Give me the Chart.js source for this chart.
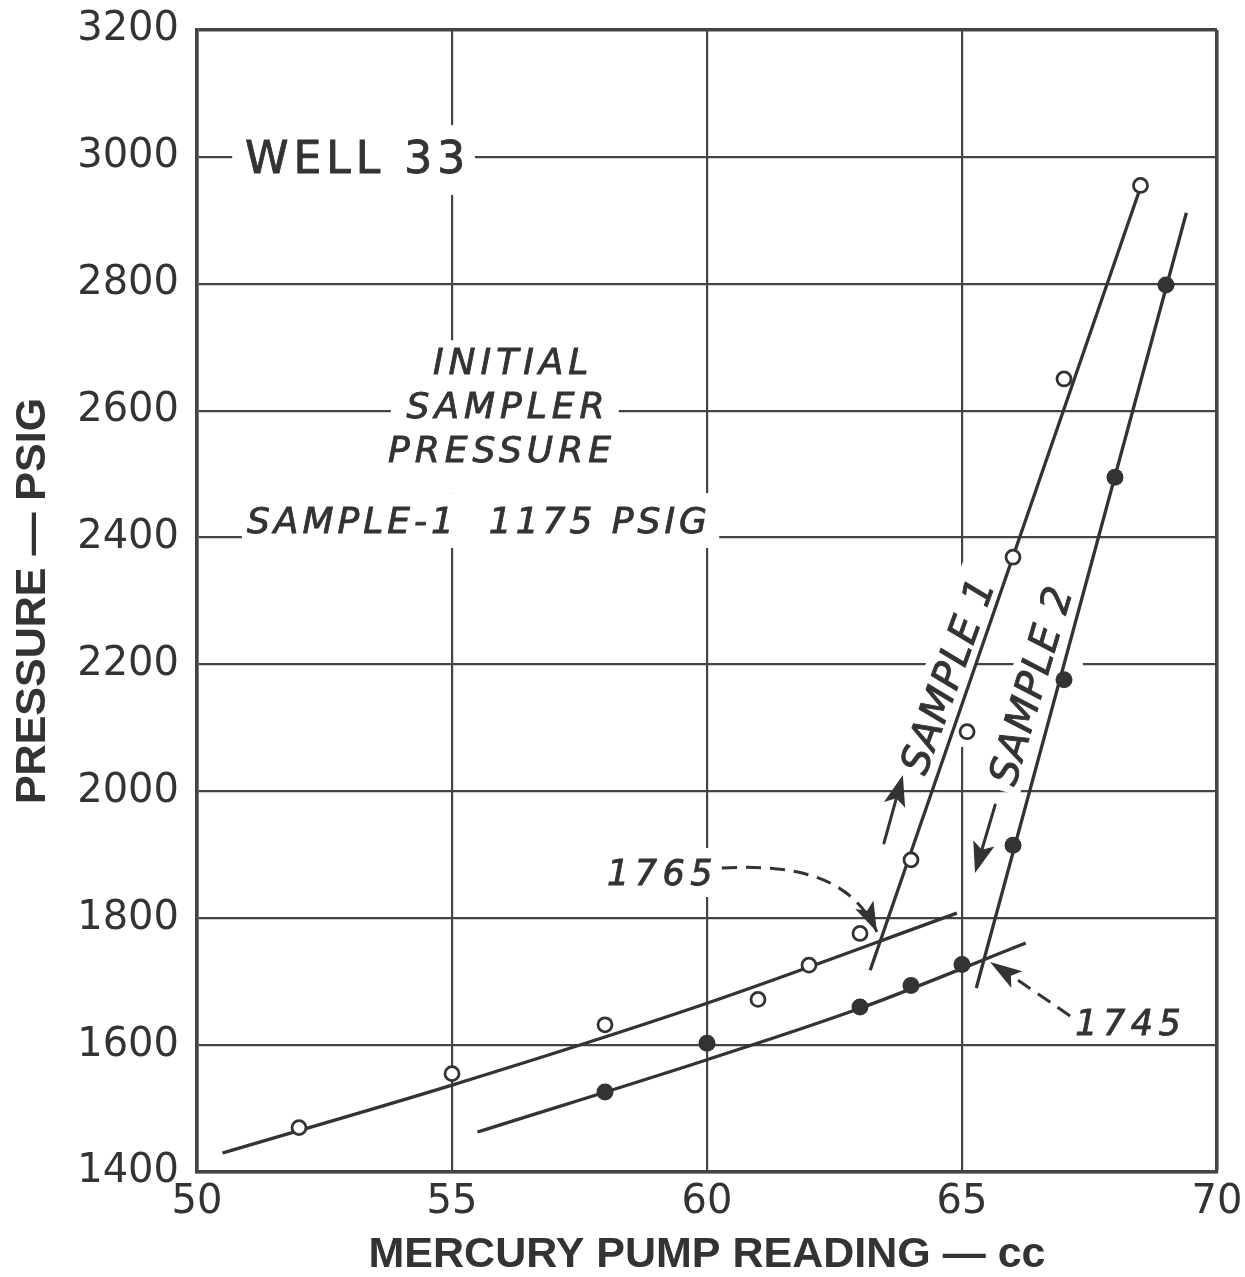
<!DOCTYPE html>
<html>
<head>
<meta charset="utf-8">
<title>Well 33 – pressure vs mercury pump reading</title>
<script src="https://cdn.jsdelivr.net/npm/chart.js@4/dist/chart.umd.min.js"></script>
<style>
  html, body { margin: 0; padding: 0; background: #fff; }
  canvas { display: block; }
</style>
</head>
<body>
<canvas id="pv" width="1245" height="1277" style="width:1245px;height:1277px"></canvas>
<script>
// Measured points: mercury pump reading (cc) against pressure (psig)
const sample1Pump = [52, 55, 58, 61, 62, 63, 64, 65.1, 66, 67, 68.5];
const sample1Psig = [1470, 1555, 1632, 1672, 1726, 1776, 1892, 2094, 2369, 2650, 2955];
const sample2Pump = [58, 60, 63, 64, 65, 66, 67, 68, 69];
const sample2Psig = [1526, 1603, 1660, 1694, 1727, 1915, 2176, 2495, 2798];

// Faired curves through the points: gas branch (shallow) and liquid branch (steep)
const fit1LowPump  = [50.5, 55, 60, 64.9];
const fit1LowPsig  = [1430, 1537, 1666, 1808];
const fit1HighPump = [63.2, 68.47];
const fit1HighPsig = [1718, 2945];
const fit2LowPump  = [55.5, 60, 63, 66.25];
const fit2LowPsig  = [1463, 1577, 1658, 1761];
const fit2HighPump = [65.28, 69.4];
const fit2HighPsig = [1690, 2912];

// Axis ticks
const pumpTicks = [50, 55, 60, 65, 70];
const psigTicks = [1400, 1600, 1800, 2000, 2200, 2400, 2600, 2800, 3000, 3200];

// Bubble-point readings called out on the chart
const bubblePoints = ['1765', '1745'];

const INK = '#333333';
const GRID = '#444444';
const LETTER = '"DejaVu Sans", "Noto Sans", sans-serif';

const pts = (xs, ys) => xs.map((x, i) => ({ x, y: ys[i] }));

// Text lettered on the chart (anchors in data units)
const labels = [
  { text: 'WELL 33', x: 53.15, y: 2974.6, align: 'center', size: 44, italic: false, spacing: 5 },
  { text: 'INITIAL', x: 56.2, y: 2657.8, align: 'center', size: 36, italic: true, spacing: 5 },
  { text: 'SAMPLER', x: 56.1, y: 2588.4, align: 'center', size: 36, italic: true, spacing: 5 },
  { text: 'PRESSURE', x: 55.98, y: 2519, align: 'center', size: 36, italic: true, spacing: 5 },
  { text: 'SAMPLE-1  1175 PSIG', x: 50.98, y: 2407, align: 'left', size: 36, italic: true, spacing: 4 },
  { text: bubblePoints[0], x: 58.04, y: 1852.4, align: 'left', size: 35, italic: true, spacing: 5.5 },
  { text: bubblePoints[1], x: 67.22, y: 1615.9, align: 'left', size: 35, italic: true, spacing: 5.5 }
];
const slantLabels = [
  { text: 'SAMPLE 1', x: 64.7, y: 2183, angle: -70, size: 40, italic: true, spacing: 1, pad: 9 },
  { text: 'SAMPLE 2', x: 66.33, y: 2168, angle: -73.5, size: 40, italic: true, spacing: 1, pad: 7 }
];
// Breaks in the grid behind lettering: [x0, x1, y0, y1] in data units
const gridBreaks = [
  [50.69, 55.45, 2940, 3050],
  [53.8, 58.27, 2470, 2711],
  [50.88, 60.24, 2383.5, 2470],
  [57.86, 60.29, 1833.5, 1910.7],
  [64.86, 65.31, 2070, 2148],
  [66.5, 67.37, 2185, 2215]
];
// Direction arrows beside the steep branches: [tailX, tailY, tipX, tipY]
const runArrows = [
  [63.47, 1918.6, 63.84, 2025.7],
  [65.65, 1978.5, 65.255, 1871.3]
];
// Dashed leaders from the bubble-point readings
const leader1765 = [[60.29, 1879.2], [61.82, 1885.5], [62.84, 1863.4], [63.333, 1778.3]];
const leader1745 = [[67.12, 1645.9], [66.33, 1690], [65.55, 1731]];

function fontOf(L) {
  return (L.italic ? 'italic ' : '') + L.size + 'px ' + LETTER;
}

// pen lettering: fill plus a thin outline for a slightly heavier stroke
function letter(ctx, text, x, y) {
  ctx.fillText(text, x, y);
  ctx.lineWidth = 0.9;
  ctx.strokeText(text, x, y);
}

function arrowHead(ctx, x, y, ang, len, w) {
  const c = Math.cos(ang), s = Math.sin(ang);
  ctx.beginPath();
  ctx.moveTo(x, y);
  ctx.lineTo(x - len * c + w * s, y - len * s - w * c);
  ctx.lineTo(x - len * 0.78 * c, y - len * 0.78 * s);
  ctx.lineTo(x - len * c - w * s, y - len * s + w * c);
  ctx.closePath();
  ctx.fill();
}

const lettering = {
  id: 'lettering',
  beforeDatasetsDraw(chart) {
    const { ctx, chartArea: a, scales: { x, y } } = chart;
    ctx.save();
    ctx.beginPath();
    ctx.rect(a.left + 3, a.top + 3, a.right - a.left - 6, a.bottom - a.top - 6);
    ctx.clip();
    ctx.fillStyle = '#fff';
    gridBreaks.forEach(([x0, x1, y0, y1]) => {
      const px0 = x.getPixelForValue(x0), px1 = x.getPixelForValue(x1);
      const py0 = y.getPixelForValue(y1), py1 = y.getPixelForValue(y0);
      ctx.fillRect(px0, py0, px1 - px0, py1 - py0);
    });
    slantLabels.forEach(L => {
      ctx.save();
      ctx.font = fontOf(L);
      ctx.letterSpacing = L.spacing + 'px';
      const w = ctx.measureText(L.text).width;
      const h = L.size * 0.73;
      ctx.translate(x.getPixelForValue(L.x), y.getPixelForValue(L.y));
      ctx.rotate(L.angle * Math.PI / 180);
      ctx.fillStyle = '#fff';
      ctx.fillRect(-w / 2 - L.pad, -h / 2 - L.pad, w + 2 * L.pad, h + 2 * L.pad);
      ctx.restore();
    });
    ctx.restore();
  },
  afterDatasetsDraw(chart) {
    const { ctx, scales: { x, y } } = chart;
    const P = (v) => [x.getPixelForValue(v[0]), y.getPixelForValue(v[1])];
    ctx.save();
    ctx.fillStyle = INK;
    ctx.strokeStyle = INK;

    labels.forEach(L => {
      ctx.save();
      ctx.font = fontOf(L);
      ctx.letterSpacing = L.spacing + 'px';
      ctx.textAlign = L.align;
      ctx.textBaseline = 'alphabetic';
      letter(ctx, L.text, x.getPixelForValue(L.x), y.getPixelForValue(L.y));
      ctx.restore();
    });
    slantLabels.forEach(L => {
      ctx.save();
      ctx.font = fontOf(L);
      ctx.letterSpacing = L.spacing + 'px';
      ctx.textAlign = 'center';
      ctx.textBaseline = 'alphabetic';
      ctx.translate(x.getPixelForValue(L.x), y.getPixelForValue(L.y));
      ctx.rotate(L.angle * Math.PI / 180);
      letter(ctx, L.text, 0, L.size * 0.3645);
      ctx.restore();
    });

    // solid arrows showing the direction of the run
    ctx.lineWidth = 3;
    ctx.lineCap = 'round';
    runArrows.forEach(([tx, ty, hx, hy]) => {
      const [x0, y0] = P([tx, ty]);
      const [x1, y1] = P([hx, hy]);
      const ang = Math.atan2(y1 - y0, x1 - x0);
      ctx.beginPath();
      ctx.moveTo(x0, y0);
      ctx.lineTo(x1 - 24 * Math.cos(ang), y1 - 24 * Math.sin(ang));
      ctx.stroke();
      arrowHead(ctx, x1, y1, ang, 31, 11);
    });

    // dashed leaders
    ctx.lineWidth = 3;
    ctx.lineCap = 'butt';
    ctx.setLineDash([15, 9]);
    {
      const [p0, p1, p2, p3] = leader1765.map(P);
      ctx.beginPath();
      ctx.moveTo(p0[0], p0[1]);
      ctx.bezierCurveTo(p1[0], p1[1], p2[0], p2[1], p3[0], p3[1]);
      ctx.stroke();
      ctx.setLineDash([]);
      arrowHead(ctx, p3[0], p3[1], Math.atan2(p3[1] - p2[1], p3[0] - p2[0]), 30, 10);
    }
    ctx.setLineDash([15, 9]);
    {
      const [p0, p1, p2] = leader1745.map(P);
      const ang = Math.atan2(p2[1] - p1[1], p2[0] - p1[0]);
      ctx.beginPath();
      ctx.moveTo(p0[0], p0[1]);
      ctx.quadraticCurveTo(p1[0], p1[1], p2[0] - 20 * Math.cos(ang), p2[1] - 20 * Math.sin(ang));
      ctx.stroke();
      ctx.setLineDash([]);
      arrowHead(ctx, p2[0], p2[1], ang, 32, 10);
    }
    ctx.restore();
  }
};

const fitLine = (xs, ys) => ({
  data: pts(xs, ys),
  showLine: true,
  pointRadius: 0,
  borderColor: INK,
  borderWidth: 3.3,
  cubicInterpolationMode: 'monotone',
  fill: false
});

const plainNumber = v => String(v);

new Chart(document.getElementById('pv'), {
  type: 'scatter',
  data: {
    datasets: [
      {
        label: 'Sample 1',
        data: pts(sample1Pump, sample1Psig),
        pointRadius: 7,
        pointBorderWidth: 2.8,
        pointBackgroundColor: '#fff',
        pointBorderColor: INK
      },
      {
        label: 'Sample 2',
        data: pts(sample2Pump, sample2Psig),
        pointRadius: 8.5,
        pointBorderWidth: 0,
        pointBackgroundColor: INK,
        pointBorderColor: INK
      },
      fitLine(fit1LowPump, fit1LowPsig),
      fitLine(fit1HighPump, fit1HighPsig),
      fitLine(fit2LowPump, fit2LowPsig),
      fitLine(fit2HighPump, fit2HighPsig)
    ]
  },
  options: {
    responsive: false,
    animation: false,
    events: [],
    layout: { padding: { left: 0, right: 28, top: 30, bottom: 0 } },
    plugins: { legend: { display: false }, tooltip: { enabled: false } },
    scales: {
      x: {
        type: 'linear',
        min: 50,
        max: 70,
        afterBuildTicks: s => { s.ticks = pumpTicks.map(v => ({ value: v })); },
        afterFit: s => { s.height = 105; s.paddingLeft = 0; s.paddingRight = 0; },
        ticks: {
          color: INK,
          font: { family: LETTER, size: 40 },
          padding: 7,
          maxRotation: 0,
          autoSkip: false,
          callback: plainNumber
        },
        grid: {
          color: GRID,
          lineWidth: c => (c.tick && c.tick.value === 70 ? 3.6 : 2.2),
          drawTicks: false
        },
        border: { color: GRID, width: 3.6 },
        title: {
          display: true,
          text: 'MERCURY PUMP READING — cc',
          color: INK,
          font: { family: '"Liberation Sans", Arial, sans-serif', size: 43, weight: 'bold', lineHeight: 1 },
          padding: { top: 0, bottom: 0 }
        }
      },
      y: {
        type: 'linear',
        min: 1400,
        max: 3200,
        afterBuildTicks: s => { s.ticks = psigTicks.map(v => ({ value: v })); },
        afterFit: s => { s.width = 197; s.paddingTop = 0; s.paddingBottom = 0; },
        ticks: {
          color: INK,
          font: { family: LETTER, size: 40 },
          padding: 18,
          autoSkip: false,
          callback: plainNumber
        },
        grid: {
          color: GRID,
          lineWidth: c => (c.tick && c.tick.value === 3200 ? 3.6 : 2.2),
          drawTicks: false
        },
        border: { color: GRID, width: 3.6 },
        title: {
          display: true,
          text: 'PRESSURE — PSIG',
          color: INK,
          font: { family: '"Liberation Sans", Arial, sans-serif', size: 43, weight: 'bold', lineHeight: 1 },
          padding: { top: 12, bottom: 0 }
        }
      }
    }
  },
  plugins: [lettering]
});
</script>
</body>
</html>
